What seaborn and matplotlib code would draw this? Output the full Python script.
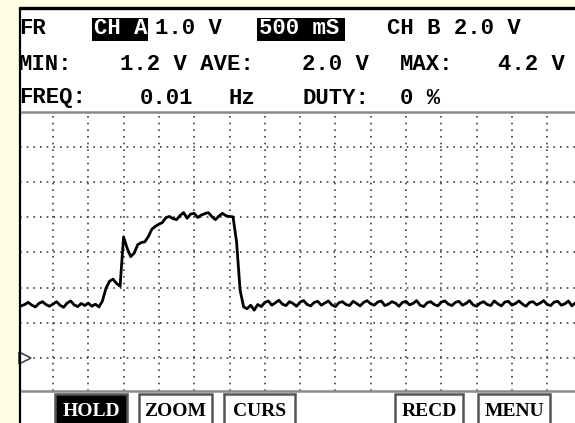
#!/usr/bin/env python3
# coding: utf-8

import numpy as np
import matplotlib
matplotlib.use('Agg')
import matplotlib.pyplot as plt
import seaborn as sns
from matplotlib.patches import Rectangle
from matplotlib.lines import Line2D

W, H = 575, 423

# readout text on the scope screen
row1_labels = ['FR', 'CH A', '1.0 V', '500 mS', 'CH B 2.0 V']
row2_labels = ['MIN:', '1.2 V AVE:', '2.0 V', 'MAX:', '4.2 V']
row3_labels = ['FREQ:', '0.01', 'Hz', 'DUTY:', '0 %']
inverted = ['CH A', '500 mS']
button_labels = ['HOLD', 'ZOOM', 'CURS', 'RECD', 'MENU']
active_button = 'HOLD'

# channel A trace, volts, one sample every 0.05 s starting at -0.45 s
t_start = -0.45
t_step = 0.05
volts = [
    1.48, 1.52, 1.58, 1.50, 1.45, 1.55, 1.60, 1.52, 1.47,
    1.53, 1.60, 1.50, 1.44, 1.56, 1.62, 1.51, 1.46, 1.55, 1.49,
    1.56, 1.47, 1.53, 1.45, 1.62, 1.98, 2.18, 2.24, 2.12, 2.04,
    3.44, 3.12, 2.88, 2.98, 3.22, 3.28, 3.30, 3.45, 3.66, 3.74,
    3.80, 3.85, 3.99, 4.02, 3.96, 3.93, 4.05, 4.13, 3.97, 4.09,
    4.11, 3.99, 4.06, 4.10, 4.13, 4.02, 3.93, 4.03, 4.11, 4.04,
    4.02, 4.01, 3.30, 1.93, 1.45, 1.40, 1.50, 1.36, 1.52, 1.46,
    1.58, 1.62, 1.50, 1.57, 1.64, 1.53, 1.49, 1.60, 1.55, 1.47,
    1.59, 1.63, 1.52, 1.48, 1.58, 1.61, 1.50, 1.56, 1.62, 1.51,
    1.46, 1.57, 1.60, 1.52, 1.49, 1.61, 1.55, 1.48, 1.58, 1.63,
    1.54, 1.50, 1.59, 1.62, 1.49, 1.53, 1.60, 1.56, 1.47, 1.58,
    1.61, 1.51, 1.55, 1.63, 1.50, 1.46, 1.57, 1.60, 1.52, 1.48,
    1.59, 1.62, 1.53, 1.49, 1.58, 1.61, 1.50, 1.55, 1.63, 1.51,
    1.47, 1.56, 1.60, 1.52, 1.49, 1.62, 1.54, 1.48, 1.59, 1.61,
    1.50, 1.55, 1.62, 1.53, 1.47, 1.58, 1.60, 1.51, 1.56, 1.63,
    1.52, 1.49, 1.59, 1.61, 1.50, 1.54, 1.62, 1.48, 1.57,
]
ground_level = 0.0
time = t_start + t_step * np.arange(len(volts))


def fx(px):
    return px / W


def fy(py):
    return 1 - py / H


sns.set_theme(style='white')
fig = plt.figure(figsize=(W / 100, H / 100), dpi=100, facecolor='#FFFFE6')

# screen body and its frame
fig.patches.append(Rectangle((fx(20), 0), 1, fy(8), transform=fig.transFigure,
                             facecolor='white', edgecolor='none', zorder=-2))
fig.lines.append(Line2D([fx(20), 1], [fy(8), fy(8)], transform=fig.transFigure,
                        color='black', lw=2.4, zorder=5))
fig.lines.append(Line2D([fx(20), fx(20)], [0, fy(8)], transform=fig.transFigure,
                        color='black', lw=1.6, zorder=5))

# waveform area: 500 ms/div horizontally, 1 V/div vertically
ax = fig.add_axes([fx(20), fy(391), fx(575) - fx(20), fy(112) - fy(391)])
ax.set_zorder(2)
ax.set_facecolor('none')
sns.lineplot(x=time, y=volts, ax=ax, color='black', lw=2.0, estimator=None)
ax.set_xlim(-33 / 70.6, 522 / 70.6)
ax.set_ylim(-33 / 35.2, 246 / 35.2)
ax.set_xticks(np.arange(0, 7.01, 0.5))
ax.set_yticks(np.arange(0, 7))
ax.grid(True, color='#404040', ls=(0, (1, 3)), lw=1.2)
ax.tick_params(length=0, labelbottom=False, labelleft=False)
for side in ['left', 'right']:
    ax.spines[side].set_visible(False)
for side in ['top', 'bottom']:
    ax.spines[side].set_color('#8a8a8a')
    ax.spines[side].set_linewidth(1.8)
ax.set_xlabel('')
ax.set_ylabel('')
# ground marker of channel A
ax.plot([ax.get_xlim()[0] + 0.07], [ground_level], marker='>', ms=8,
        mfc='white', mec='#444444', mew=1.2, clip_on=False)

# readout rows
mono = dict(family='Liberation Mono', weight='bold', fontsize=16,
            va='center', ha='left')
row_y = [28, 65, 98]
row_x = [[19, 94, 155, 259, 387],
         [19, 120, 302, 400, 498],
         [19, 140, 228, 302, 400]]
box_x = {'CH A': (92, 148), '500 mS': (257, 345)}
for labels, y, xs in zip([row1_labels, row2_labels, row3_labels], row_y, row_x):
    for lab, x in zip(labels, xs):
        color = 'black'
        if lab in inverted:
            x0, x1 = box_x[lab]
            fig.patches.append(Rectangle((fx(x0), fy(41)), fx(x1) - fx(x0),
                                         fy(18) - fy(41), transform=fig.transFigure,
                                         facecolor='black', edgecolor='none', zorder=1))
            color = 'white'
        fig.text(fx(x), fy(y), lab, color=color, zorder=3, **mono)

# soft keys
button_x = [(55, 127), (139, 212), (224, 295), (395, 463), (478, 550)]
for lab, (x0, x1) in zip(button_labels, button_x):
    active = lab == active_button
    fig.patches.append(Rectangle((fx(x0), fy(430)), fx(x1) - fx(x0), fy(394) - fy(430),
                                 transform=fig.transFigure,
                                 facecolor='black' if active else 'white',
                                 edgecolor='#555555', lw=1.8, zorder=1))
    fig.text(fx((x0 + x1) / 2), fy(411), lab, family='Liberation Serif',
             weight='bold', fontsize=14, ha='center', va='center',
             color='white' if active else 'black', zorder=3)

plt.savefig('out.png', dpi=100, facecolor=fig.get_facecolor())
